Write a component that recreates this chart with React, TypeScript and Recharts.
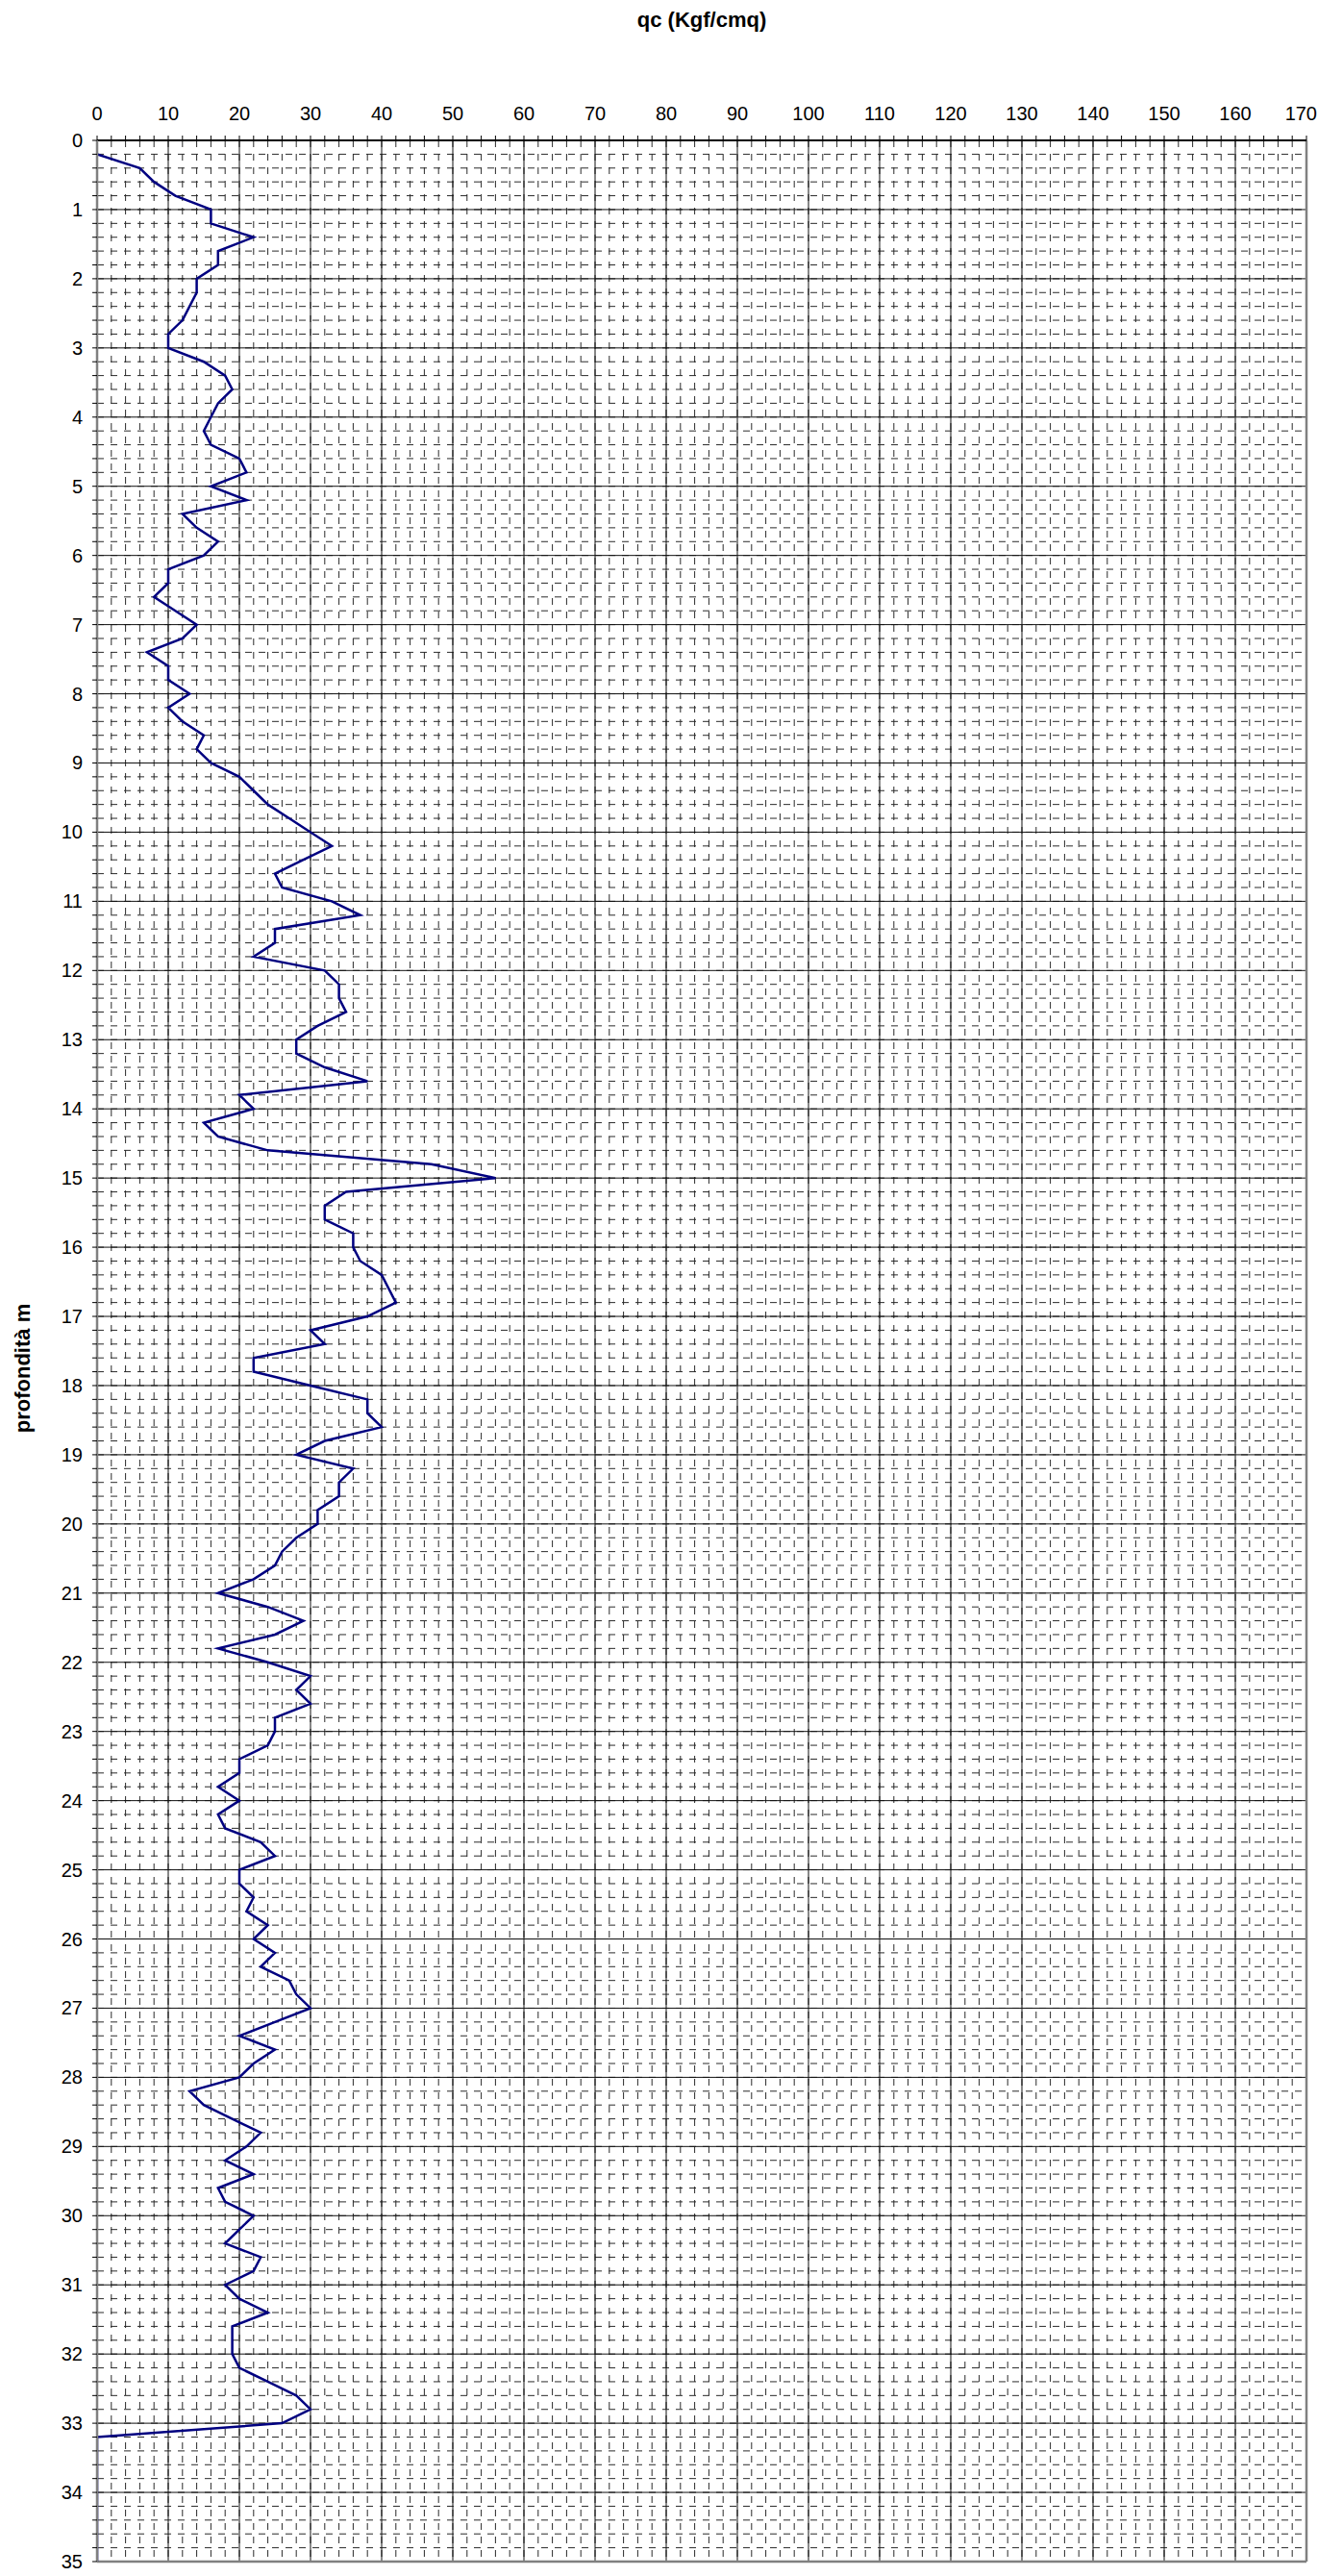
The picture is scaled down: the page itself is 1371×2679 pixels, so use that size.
import React from "react";
import {
  LineChart,
  Line,
  XAxis,
  YAxis,
  CartesianGrid,
  ReferenceLine,
} from "recharts";

if (typeof document !== "undefined") document.body.style.margin = "0";

// qc (Kgf/cmq) read every 0.2 m, starting at 0.2 m
const qcValues = [
  0, 6, 8, 11, 16, 16, 22, 17, 17, 14,
  14, 13, 12, 10, 10, 15, 18, 19, 17, 16,
  15, 16, 20, 21, 16, 21, 12, 14, 17, 15,
  10, 10, 8, 11, 14, 12, 7, 10, 10, 13,
  10, 12, 15, 14, 16, 20, 22, 24, 27, 30,
  33, 29, 25, 26, 33, 37, 25, 25, 22, 32,
  34, 34, 35, 31, 28, 28, 32, 38, 20, 22,
  15, 17, 24, 47, 56, 35, 32, 32, 36, 36,
  37, 40, 41, 42, 38, 30, 32, 22, 22, 30,
  38, 38, 40, 32, 28, 36, 34, 34, 31, 31,
  28, 26, 25, 22, 17, 24, 29, 25, 17, 24,
  30, 28, 30, 25, 25, 24, 20, 20, 17, 20,
  17, 18, 23, 25, 20, 20, 22, 21, 24, 22,
  25, 23, 27, 28, 30, 25, 20, 25, 22, 20,
  13, 15, 19, 23, 21, 18, 22, 17, 18, 22,
  20, 18, 23, 22, 18, 20, 24, 19, 19, 19,
  20, 24, 28, 30, 26, 0, 0, 0, 0, 0,
  0, 0, 0, 0, 0,
];
const depthStep = 0.2;
const depths = qcValues.map((_, i) => Math.round((i + 1) * depthStep * 10) / 10);

const xTicks = Array.from({ length: 86 }, (_, i) => i * 2);
const yTicks = Array.from({ length: 176 }, (_, i) => i / 5);
const xMajor = [10, 20, 30, 40, 50, 60, 70, 80, 90, 100, 110, 120, 130, 140, 150, 160];
const yMajor = Array.from({ length: 34 }, (_, i) => i + 1);

const data = depths.map((d, i) => ({ depth: d, qc: qcValues[i] }));

const FONT = "'Liberation Sans', Arial, sans-serif";

function XTick({ x, y, payload }: any) {
  if (payload.value % 10 !== 0) return <g />;
  // last label sits at the page edge, keep it inside
  const last = payload.value === 170;
  return (
    <text
      x={last ? x + 11 : x}
      y={y}
      dy={-14}
      textAnchor={last ? "end" : "middle"}
      fontSize={20}
      fontFamily={FONT}
      fill="#000"
    >
      {payload.value}
    </text>
  );
}

function YTick({ x, y, payload }: any) {
  if (!Number.isInteger(payload.value)) return <g />;
  return (
    <text x={x} y={y} dx={-8} dy={7} textAnchor="end" fontSize={20} fontFamily={FONT} fill="#000">
      {payload.value}
    </text>
  );
}

export default function App() {
  return (
    <div style={{ position: "relative", width: 1371, height: 2679, background: "#fff" }}>
      <LineChart
        width={1371}
        height={2679}
        data={data}
        layout="vertical"
        margin={{ top: 0, right: 12, bottom: 15, left: 0 }}
      >
        <CartesianGrid stroke="#2a2a2a" strokeDasharray="7 7" strokeWidth={1} />
        <XAxis
          type="number"
          orientation="top"
          domain={[0, 170]}
          ticks={xTicks}
          interval={0}
          height={146}
          tick={<XTick />}
          tickSize={5}
          tickLine={{ stroke: "#000" }}
          axisLine={{ stroke: "#000", strokeWidth: 2 }}
          allowDataOverflow
        />
        <YAxis
          type="number"
          dataKey="depth"
          domain={[0, 35]}
          ticks={yTicks}
          interval={0}
          width={101}
          tick={<YTick />}
          tickSize={5}
          tickLine={{ stroke: "#000" }}
          axisLine={{ stroke: "#808080", strokeWidth: 2.5 }}
          allowDataOverflow
        />
        {xMajor.map((v) => (
          <ReferenceLine key={`x${v}`} x={v} stroke="#111" strokeWidth={1} />
        ))}
        {yMajor.map((v) => (
          <ReferenceLine key={`y${v}`} y={v} stroke="#111" strokeWidth={1} />
        ))}
        <ReferenceLine x={170} stroke="#808080" strokeWidth={2.5} />
        <ReferenceLine y={35} stroke="#808080" strokeWidth={2.5} />
        <Line
          dataKey="qc"
          stroke="#000080"
          strokeWidth={2.5}
          dot={false}
          isAnimationActive={false}
        />
      </LineChart>
      <svg
        width={1371}
        height={2679}
        style={{ position: "absolute", left: 0, top: 0, pointerEvents: "none" }}
      >
        <text x={730} y={28} textAnchor="middle" fontSize={22} fontWeight="bold" fontFamily={FONT}>
          qc (Kgf/cmq)
        </text>
        <text
          x={31}
          y={1423}
          textAnchor="middle"
          fontSize={22}
          fontWeight="bold"
          fontFamily={FONT}
          transform="rotate(-90 31 1423)"
        >
          profondità m
        </text>
      </svg>
    </div>
  );
}
